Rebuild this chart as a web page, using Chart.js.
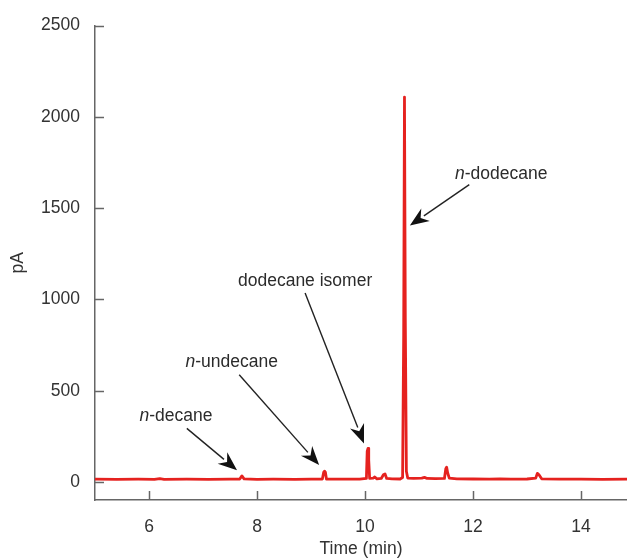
<!DOCTYPE html>
<html>
<head>
<meta charset="utf-8">
<script src="https://cdn.jsdelivr.net/npm/chart.js@4/dist/chart.umd.min.js"></script>
<style>
  html, body { margin: 0; padding: 0; background: #fff; }
  canvas { display: block; }
</style>
</head>
<body>
<canvas id="chart" width="627" height="560"></canvas>
<script>
// retention time (min)
var times = [5.00, 5.40, 5.80, 6.10, 6.20, 6.28, 6.70, 7.10, 7.50, 7.68, 7.72, 7.76,
  8.00, 8.30, 8.70, 9.00, 9.21, 9.235, 9.25, 9.265, 9.285, 9.60, 9.90,
  10.025, 10.04, 10.055, 10.068, 10.085, 10.15, 10.18, 10.22, 10.30, 10.34, 10.37, 10.40,
  10.50, 10.65, 10.695, 10.715, 10.73, 10.745, 10.765, 10.79, 10.90,
  11.05, 11.10, 11.15, 11.30, 11.47, 11.495, 11.51, 11.53, 11.56, 11.70,
  12.00, 12.30, 12.50, 12.70, 13.00, 13.16, 13.19, 13.22, 13.27, 13.60, 14.00, 14.40, 14.85];
// detector signal (pA)
var signal = [16, 15, 16, 15, 19, 15, 16, 15, 16, 17, 34, 18,
  15, 16, 15, 16, 17, 55, 60, 55, 17, 16, 16,
  20, 170, 185, 120, 20, 22, 28, 18, 20, 40, 45, 20,
  18, 17, 25, 800, 2108, 900, 60, 22, 20,
  22, 26, 20, 19, 20, 74, 82, 50, 22, 18,
  17, 16, 18, 16, 17, 22, 48, 40, 18, 16, 16, 15, 16];

var xTicks = [6, 8, 10, 12, 14];
var yTicks = [0, 500, 1000, 1500, 2000, 2500];

// peak labels: text position and arrow (start -> tip) in data units
var peakNames = ['decane', 'undecane', 'dodecane isomer', 'dodecane'];
var peakItalicN = [true, true, false, true];
var labelX = [6.50, 7.53, 8.89, 12.52];
var labelY = [359, 659, 1100, 1688];
var arrowFromX = [6.70, 7.67, 8.89, 11.93];
var arrowFromY = [294, 588, 1035, 1629];
var arrowToX = [7.63, 9.15, 9.98, 10.83];
var arrowToY = [65, 93, 212, 1405];

var FONT = '"Liberation Sans", Arial, sans-serif';
var points = times.map(function (t, i) { return { x: t, y: signal[i] }; });

var extras = {
  id: 'extras',
  afterDraw: function (chart) {
    var ctx = chart.ctx;
    var xs = chart.scales.x, ys = chart.scales.y;
    var area = chart.chartArea;
    ctx.save();
    // inward tick marks
    ctx.strokeStyle = '#666';
    ctx.lineWidth = 1.5;
    xTicks.forEach(function (v) {
      var px = Math.round(xs.getPixelForValue(v)) + 0.5;
      ctx.beginPath();
      ctx.moveTo(px, area.bottom);
      ctx.lineTo(px, area.bottom - 9);
      ctx.stroke();
    });
    yTicks.forEach(function (v) {
      var py = Math.round(ys.getPixelForValue(v)) + 0.5;
      ctx.beginPath();
      ctx.moveTo(area.left, py);
      ctx.lineTo(area.left + 9, py);
      ctx.stroke();
    });

    // annotations
    ctx.textBaseline = 'middle';
    for (var i = 0; i < peakNames.length; i++) {
      var tx = xs.getPixelForValue(labelX[i]);
      var ty = ys.getPixelForValue(labelY[i]);
      var pre = peakItalicN[i] ? 'n' : '';
      var rest = peakItalicN[i] ? '-' + peakNames[i] : peakNames[i];
      ctx.font = 'italic 17.5px ' + FONT;
      var w1 = pre ? ctx.measureText(pre).width : 0;
      ctx.font = '17.5px ' + FONT;
      var w2 = ctx.measureText(rest).width;
      var x0 = tx - (w1 + w2) / 2;
      ctx.textAlign = 'left';
      ctx.fillStyle = '#2b2b2b';
      if (pre) {
        ctx.font = 'italic 17.5px ' + FONT;
        ctx.fillText(pre, x0, ty);
      }
      ctx.font = '17.5px ' + FONT;
      ctx.fillText(rest, x0 + w1, ty);

      var ax = xs.getPixelForValue(arrowFromX[i]);
      var ay = ys.getPixelForValue(arrowFromY[i]);
      var bx = xs.getPixelForValue(arrowToX[i]);
      var by = ys.getPixelForValue(arrowToY[i]);
      var ang = Math.atan2(by - ay, bx - ax);
      var c = Math.cos(ang), s = Math.sin(ang);
      var len = 19, half = 7.5, notch = 6;
      ctx.strokeStyle = '#222';
      ctx.lineWidth = 1.4;
      ctx.beginPath();
      ctx.moveTo(ax, ay);
      ctx.lineTo(bx - c * (len - 2), by - s * (len - 2));
      ctx.stroke();
      ctx.fillStyle = '#111';
      ctx.beginPath();
      ctx.moveTo(bx, by);
      ctx.lineTo(bx - c * len - s * half, by - s * len + c * half);
      ctx.lineTo(bx - c * (len - notch), by - s * (len - notch));
      ctx.lineTo(bx - c * len + s * half, by - s * len - c * half);
      ctx.closePath();
      ctx.fill();
    }
    ctx.restore();
  }
};

var ctx = document.getElementById('chart').getContext('2d');
new Chart(ctx, {
  type: 'line',
  data: {
    datasets: [{
      data: points,
      borderColor: '#e5221f',
      borderWidth: 2.8,
      borderJoinStyle: 'round',
      pointRadius: 0,
      tension: 0,
      fill: false
    }]
  },
  options: {
    responsive: false,
    animation: false,
    layout: { padding: { top: 23, right: 0, bottom: 0, left: 0 } },
    plugins: { legend: { display: false }, tooltip: { enabled: false } },
    scales: {
      x: {
        type: 'linear',
        min: 5,
        max: 14.85,
        afterBuildTicks: function (scale) {
          scale.ticks = xTicks.map(function (v) { return { value: v }; });
        },
        afterFit: function (scale) { scale.height = 60; },
        grid: { display: false, drawTicks: false },
        border: { display: true, color: '#666', width: 1.5 },
        ticks: {
          color: '#333',
          padding: 17,
          maxRotation: 0,
          font: { family: FONT, size: 17.5 },
          callback: function (v) { return String(v); }
        },
        title: {
          display: true,
          text: 'Time (min)',
          color: '#333',
          padding: { top: 0, bottom: 0 },
          font: { family: FONT, size: 17.5 }
        }
      },
      y: {
        type: 'linear',
        min: -98,
        max: 2500,
        afterBuildTicks: function (scale) {
          scale.ticks = yTicks.map(function (v) { return { value: v }; });
        },
        afterFit: function (scale) { scale.width = 95; },
        grid: { display: false, drawTicks: false },
        border: { display: true, color: '#666', width: 1.5 },
        ticks: {
          color: '#333',
          padding: 15,
          font: { family: FONT, size: 17.5 },
          callback: function (v) { return String(v); }
        },
        title: {
          display: true,
          text: 'pA',
          color: '#333',
          padding: { top: 8, bottom: 0 },
          font: { family: FONT, size: 17.5 }
        }
      }
    }
  },
  plugins: [extras]
});
</script>
</body>
</html>
